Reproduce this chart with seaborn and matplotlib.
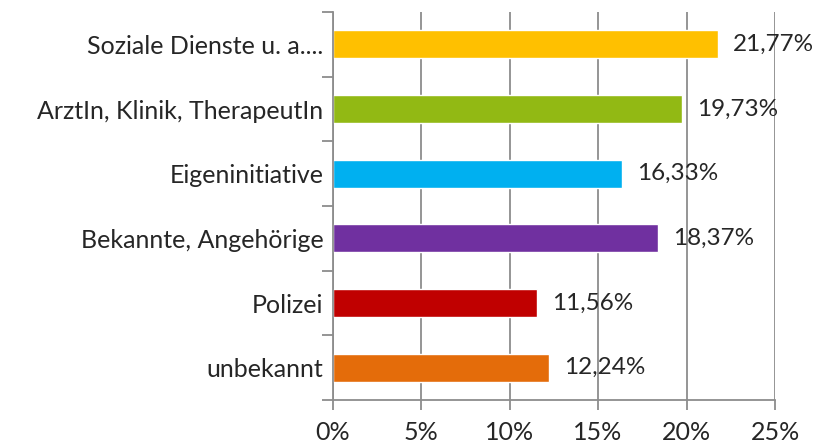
import matplotlib.pyplot as plt
import numpy as np
import seaborn as sb
import pandas as pd
from matplotlib.ticker import FixedLocator

kategorien = ["Soziale Dienste u. a....", "ArztIn, Klinik, TherapeutIn", "Eigeninitiative",
              "Bekannte, Angehörige", "Polizei", "unbekannt"]
werte = [21.77, 19.73, 16.33, 18.37, 11.56, 12.24]
farben = ["#FFC000", "#92B914", "#00B0F0", "#7030A0", "#C00000", "#E46C0A"]
xticks = [0, 5, 10, 15, 20, 25]

df = pd.DataFrame({"kategorie": kategorien, "wert": werte})

sb.set_style("white")
plt.rcParams["font.family"] = ["Lato", "DejaVu Sans"]

fig = plt.figure(figsize=(8.15, 4.48), dpi=100)
ax = fig.add_axes([332.5 / 815, 48 / 448, (775 - 332.5) / 815, (400 - 12) / 448])

sb.barplot(data=df, x="wert", y="kategorie", hue="kategorie", palette=farben,
           width=0.43, legend=False, ax=ax, saturation=1)

ax.set_xlim(0, 25)
ax.set_ylim(5.5, -0.5)
ax.set_xticks(xticks)
ax.set_xticklabels([f"{t}%" for t in xticks], fontsize=18)
ax.xaxis.grid(True, color="#8c8c8c", linewidth=1.3)
ax.set_axisbelow(True)
ax.set_xlabel("")
ax.set_ylabel("")
ax.tick_params(axis="y", which="major", length=0, pad=6.5, labelsize=18)
ax.yaxis.set_minor_locator(FixedLocator(np.arange(-0.5, 6, 1)))
ax.tick_params(axis="y", which="minor", length=8, width=1.3, color="#8c8c8c", left=True)
ax.tick_params(axis="x", which="major", length=7, width=1.3, color="#8c8c8c", bottom=True, pad=8)

for s in ["top", "right"]:
    ax.spines[s].set_visible(False)
for s in ["left", "bottom"]:
    ax.spines[s].set_color("#8c8c8c")
    ax.spines[s].set_linewidth(1.3)

for i, v in enumerate(werte):
    ax.text(v + 0.85, i, f"{v:.2f}%".replace(".", ","), va="center", ha="left", fontsize=17.5)

fig.savefig("out.png", dpi=100)
